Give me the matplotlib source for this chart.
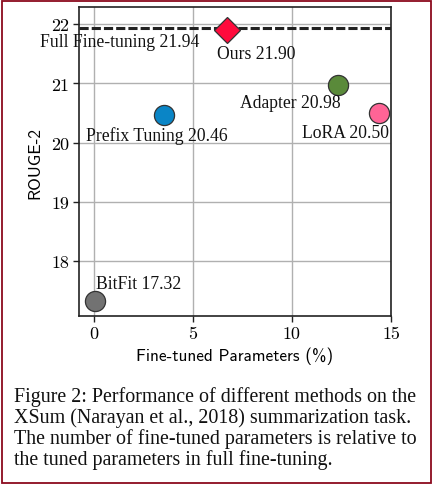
import matplotlib
matplotlib.use("Agg")
import matplotlib.pyplot as plt
from matplotlib.patches import Rectangle

methods = ["Ours", "Prefix Tuning", "Adapter", "LoRA", "BitFit"]
params_pct = [6.7, 3.55, 12.3, 14.4, 0.05]
rouge2 = [21.90, 20.46, 20.98, 20.50, 17.32]
colors = ["#FF0A3C", "#0A85C6", "#5A8A3A", "#FF6496", "#727272"]
markers = ["D", "o", "o", "o", "o"]
full_ft = 21.94

# label offsets (points) relative to each marker
label_offsets = [(-7.2, -16.6), (-56, -14.4), (-70, -13), (-55.4, -14), (1.2, 13)]

xticks = [0, 5, 10, 15]
yticks = [18, 19, 20, 21, 22]

caption = [
    "Figure 2: Performance of different methods on the",
    "XSum (Narayan et al., 2018) summarization task.",
    "The number of fine-tuned parameters is relative to",
    "the tuned parameters in full fine-tuning.",
]

fig = plt.figure(figsize=(4.33, 4.85), dpi=100)
ax = fig.add_axes([0.1824, 0.3464, 0.7206, 0.637])

ax.grid(True, color="#b0b0b0", linewidth=1.0, zorder=0)
ax.set_axisbelow(True)
ax.axhline(full_ft, color="#222222", linestyle=(0, (3, 1)), linewidth=2.2, zorder=2)

for m, x, y, c, mk, off in zip(methods, params_pct, rouge2, colors, markers, label_offsets):
    ms = 13 if mk == "D" else 14.5
    ax.plot([x], [y], marker=mk, markersize=ms, color=c, markeredgecolor="#333333",
            markeredgewidth=0.9, linestyle="none", zorder=3)
    ax.annotate(f"{m} {y:.2f}", (x, y), xytext=off, textcoords="offset points",
                ha="left", va="center", fontsize=12.7, family="Liberation Serif",
                color="#111111", zorder=4)

ax.annotate(f"Full Fine-tuning {full_ft:.2f}", (0, full_ft), xytext=(-39, -9.6),
            textcoords="offset points", ha="left", va="center", fontsize=12.7,
            family="Liberation Serif", color="#111111", annotation_clip=False, zorder=4)

ax.set_xlim(-0.75, 15.0)
ax.set_ylim(17.07, 22.29)
ax.set_xticks(xticks)
ax.set_yticks(yticks)
for lab in ax.get_xticklabels() + ax.get_yticklabels():
    lab.set_family("cmr10")
    lab.set_fontsize(13)
ax.tick_params(direction="out", length=4, width=1, color="#222222", pad=3)
for s in ax.spines.values():
    s.set_color("#222222")
    s.set_linewidth(1.2)

ax.set_xlabel("Fine-tuned Parameters (%)", family="cmss10", fontsize=12.4, labelpad=4)
ax.set_ylabel("ROUGE-2", family="cmss10", fontsize=12.4, labelpad=6)

y0 = 1 - 402 / 485
for i, line in enumerate(caption):
    fig.text(14 / 433, y0 - i * 21 / 485, line, family="Liberation Serif",
             fontsize=14.4, ha="left", va="baseline", color="#111111")

fig.patches.append(Rectangle((1.5 / 433, 1.5 / 485), 429 / 433, 482 / 485,
                             transform=fig.transFigure, fill=False,
                             edgecolor="#8B0A1E", linewidth=1.3))

fig.savefig("out.png", dpi=100)
